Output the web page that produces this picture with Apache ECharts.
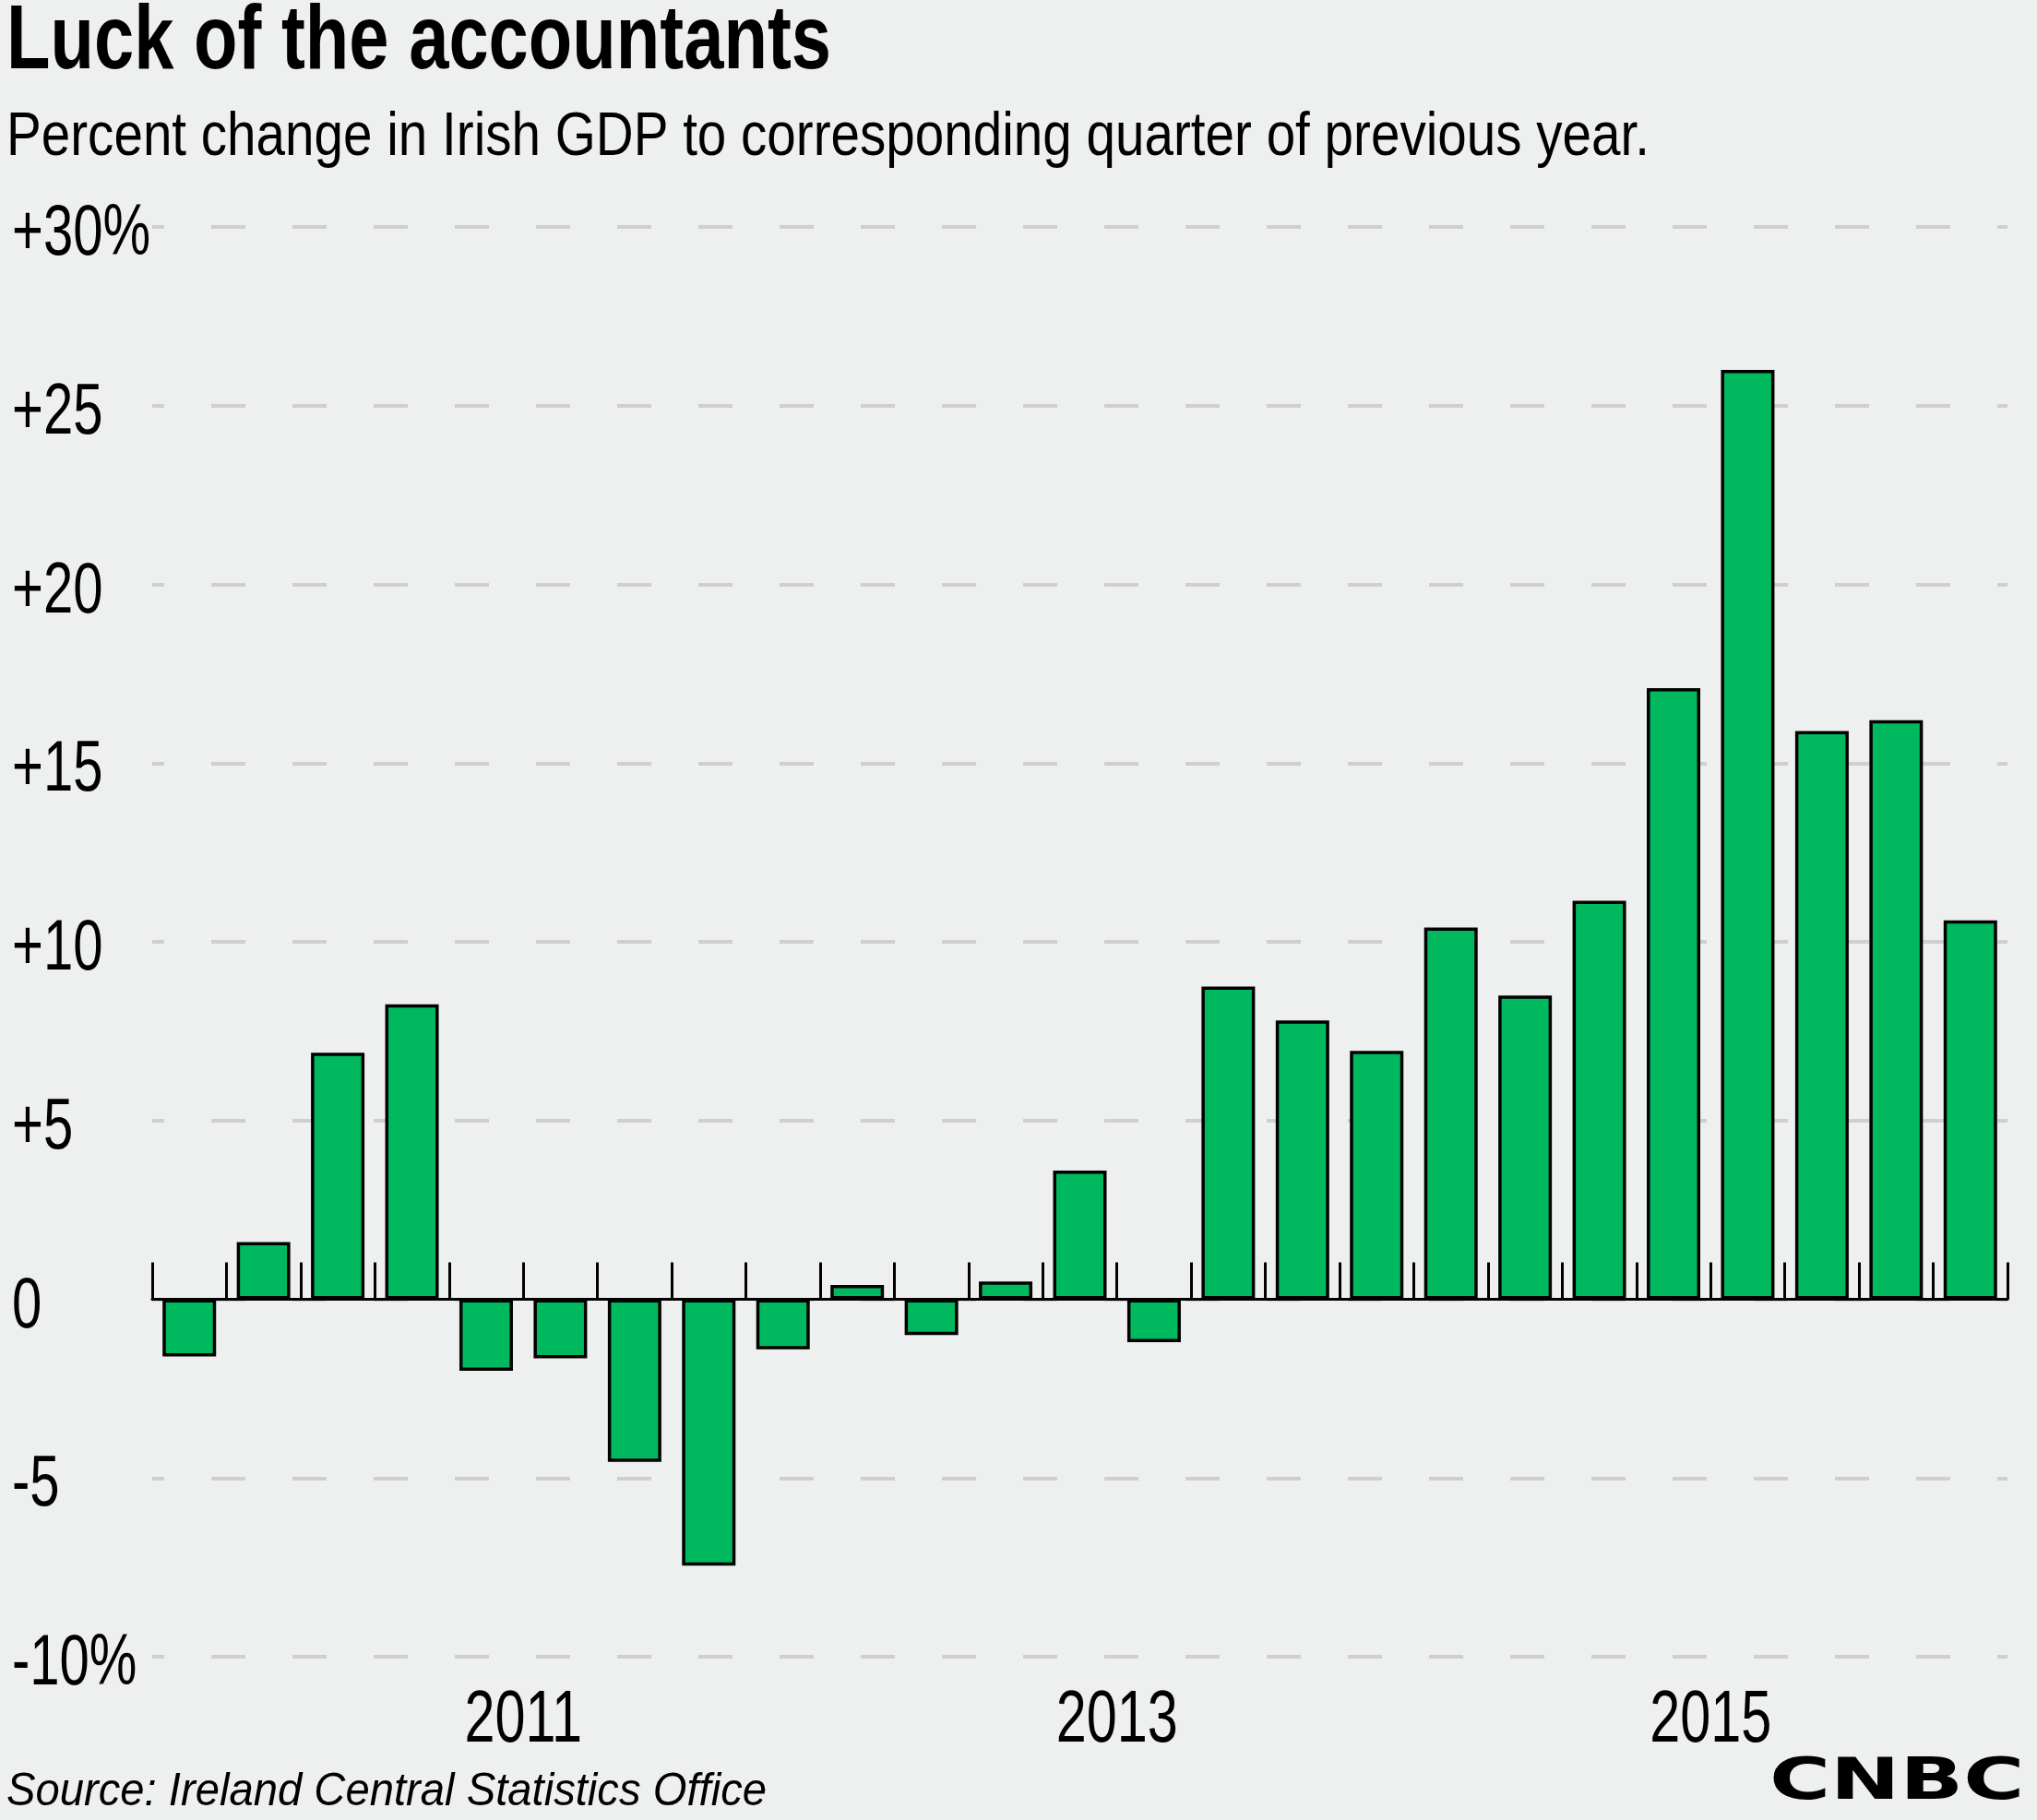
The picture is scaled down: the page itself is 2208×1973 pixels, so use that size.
<!DOCTYPE html>
<html>
<head>
<meta charset="utf-8">
<script src="https://cdn.jsdelivr.net/npm/echarts@6/dist/echarts.min.js"></script>
<style>
html,body{margin:0;padding:0;background:#EEF0EF;}
#chart{width:2208px;height:1973px;}
</style>
</head>
<body>
<div id="chart"></div>
<script>
// ---- data ----
var quarters = [
  '2010 Q2','2010 Q3','2010 Q4',
  '2011 Q1','2011 Q2','2011 Q3','2011 Q4',
  '2012 Q1','2012 Q2','2012 Q3','2012 Q4',
  '2013 Q1','2013 Q2','2013 Q3','2013 Q4',
  '2014 Q1','2014 Q2','2014 Q3','2014 Q4',
  '2015 Q1','2015 Q2','2015 Q3','2015 Q4',
  '2016 Q1','2016 Q2'
];
var gdpChange = [
  -1.6, 1.6, 6.9,
  8.25, -2.0, -1.65, -4.55,
  -7.45, -1.4, 0.4, -1.0,
  0.5, 3.6, -1.2, 8.75,
  7.8, 6.95, 10.4, 8.5,
  11.15, 17.1, 26.0, 15.9,
  16.2, 10.6
];
var yearLabels = ['2011', '2013', '2015'];
var yTickValues = [30, 25, 20, 15, 10, 5, 0, -5, -10];
var yTickLabels = ['+30%', '+25', '+20', '+15', '+10', '+5', '0', '-5', '-10%'];

var FONT = "'Liberation Sans', Arial, sans-serif";
var measureCtx = document.createElement('canvas').getContext('2d');
function widthOf(text, font) { measureCtx.font = font; return measureCtx.measureText(text).width; }

var chart = echarts.init(document.getElementById('chart'), null, {renderer: 'canvas'});
var option = {
  backgroundColor: '#EEF0EF',
  animation: false,
  grid: {left: 165, right: 32, top: 246, bottom: 177, containLabel: false},
  xAxis: {
    type: 'category',
    data: quarters,
    boundaryGap: true,
    axisLine: {show: true, onZero: true, lineStyle: {color: '#000', width: 3}},
    axisTick: {show: true, inside: true, length: 40, interval: 0, lineStyle: {color: '#000', width: 3}},
    axisLabel: {show: false},
    splitLine: {show: false},
    z: 5
  },
  yAxis: {
    type: 'value',
    min: -10,
    max: 30,
    interval: 5,
    axisLine: {show: false},
    axisTick: {show: false},
    axisLabel: {show: false},
    splitLine: {show: true, lineStyle: {color: '#CFCFCF', width: 4, type: [37, 51], dashOffset: 24}}
  },
  series: [{
    type: 'bar',
    data: gdpChange,
    barWidth: 58,
    itemStyle: {color: '#00B95E', borderColor: '#000', borderWidth: 3.5},
    z: 3
  }]
};
chart.setOption(option);

// ---- text drawn as graphics (condensed via scaleX) ----
var graphics = [];
function addText(text, font, x, y, targetWidth, align, scaleOverride) {
  var sx = scaleOverride || (targetWidth / widthOf(text, font));
  graphics.push({
    type: 'text', x: x, y: y, scaleX: sx, z: 20,
    style: {text: text, font: font, fill: '#000', align: align || 'left', verticalAlign: 'middle'}
  });
  return sx;
}
addText('Luck of the accountants', 'bold 98px ' + FONT, 7, 47, 894);
addText('Percent change in Irish GDP to corresponding quarter of previous year.', '67px ' + FONT, 7, 150, 1781);
addText('Source: Ireland Central Statistics Office', 'italic 50px ' + FONT, 7, 1943, 824);

var labelFont = '77px ' + FONT;
var labelScale = 150 / widthOf('+30%', labelFont);
for (var i = 0; i < yTickValues.length; i++) {
  var py = chart.convertToPixel({yAxisIndex: 0}, yTickValues[i]);
  addText(yTickLabels[i], labelFont, 13, py + 9, 0, 'left', labelScale);
}
var yearFont = '80px ' + FONT;
var yearScale = 132 / widthOf('2013', yearFont);
for (var j = 0; j < yearLabels.length; j++) {
  var x1 = chart.convertToPixel({xAxisIndex: 0}, yearLabels[j] + ' Q2');
  var x2 = chart.convertToPixel({xAxisIndex: 0}, yearLabels[j] + ' Q3');
  addText(yearLabels[j], yearFont, (x1 + x2) / 2, 1866, 0, 'center', yearScale);
}
graphics.push({type: 'text', x: 1918, y: 1934, scaleX: 1.43, z: 20,
  style: {text: 'CNBC', fill: '#000', font: 'bold 63px "DejaVu Sans", sans-serif', verticalAlign: 'middle', align: 'left'}});

chart.setOption({graphic: graphics});
</script>
</body>
</html>
